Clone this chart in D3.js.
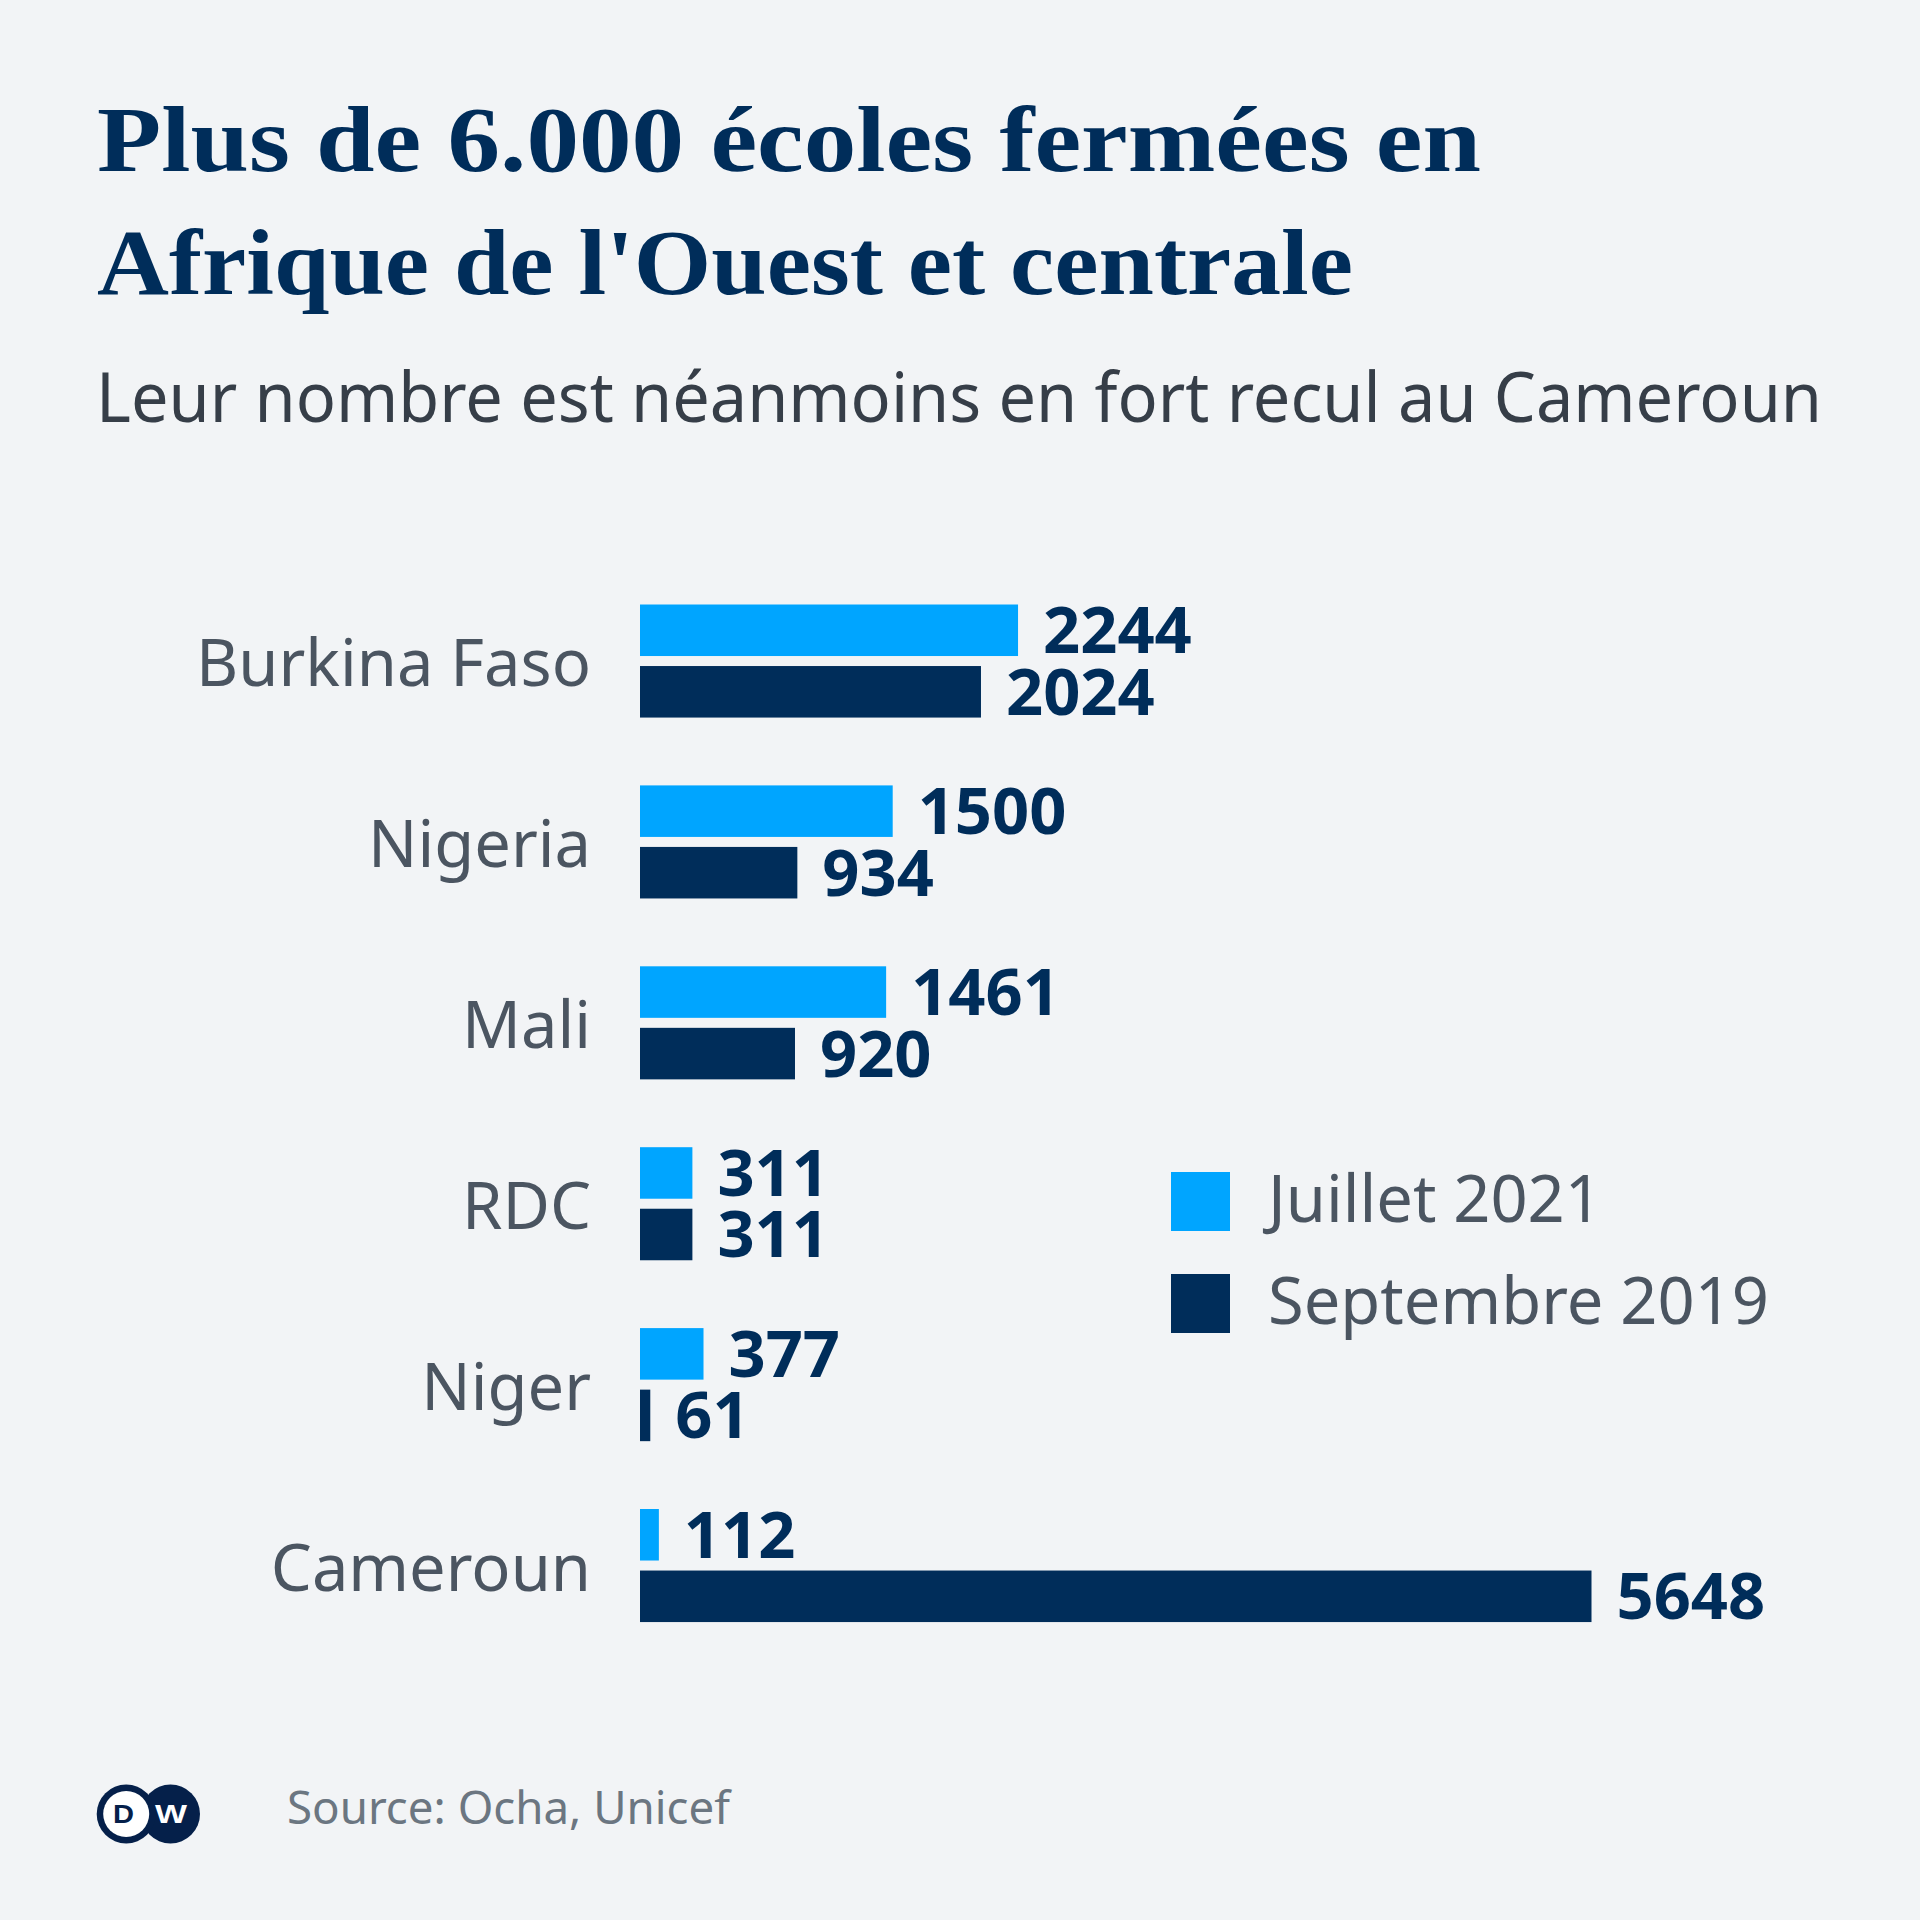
<!DOCTYPE html>
<html>
<head>
<meta charset="utf-8">
<script src="https://cdn.jsdelivr.net/npm/d3@7"></script>
<style>
  html, body { margin: 0; padding: 0; background: #f2f4f6; }
  svg { display: block; }
</style>
</head>
<body>
<svg id="chart" width="1920" height="1920"></svg>
<script>
// ---- Data ----
const titleLines = ["Plus de 6.000 écoles fermées en", "Afrique de l'Ouest et centrale"];
const subtitle = "Leur nombre est néanmoins en fort recul au Cameroun";
const source = "Source: Ocha, Unicef";
const categories = ["Burkina Faso", "Nigeria", "Mali", "RDC", "Niger", "Cameroun"];
const seriesNames = ["Juillet 2021", "Septembre 2019"];
const july2021 = [2244, 1500, 1461, 311, 377, 112];
const sept2019 = [2024, 934, 920, 311, 61, 5648];
const seriesColors = ["#00a5ff", "#002d5a"];

// ---- Layout ----
const W = 1920, H = 1920;
const bg = "#f2f4f6";
const navy = "#002d5a";
const svg = d3.select("#chart");
svg.append("rect").attr("width", W).attr("height", H).attr("fill", bg);

function fitWidth(sel, target) {
  const w = sel.node().getComputedTextLength();
  if (Math.abs(w - target) > 1) {
    sel.attr("textLength", target).attr("lengthAdjust", "spacingAndGlyphs");
  }
}

// Title
const titleBase = [171, 294];
const titleWidths = [1384, 1256];
titleLines.forEach((t, i) => {
  const tx = svg.append("text")
    .attr("x", 97).attr("y", titleBase[i])
    .attr("font-family", "'Liberation Serif', serif")
    .attr("font-weight", 700)
    .attr("font-size", 94)
    .attr("fill", navy)
    .text(t);
  fitWidth(tx, titleWidths[i]);
});

// Subtitle
const sub = svg.append("text")
  .attr("x", 96).attr("y", 422)
  .attr("font-family", "'Noto Sans', sans-serif")
  .attr("font-size", 68.5)
  .attr("fill", "#363e48")
  .text(subtitle);
fitWidth(sub, 1726);

// Scales
const step = 180.9;
const firstTop = 604.5;
const y0 = firstTop - 0.1875 * step;
const y = d3.scaleBand()
  .domain(categories)
  .range([y0, y0 + categories.length * step])
  .paddingInner(0.375)
  .paddingOuter(0.1875)
  .align(0.5);

const ySub = d3.scaleBand()
  .domain(seriesNames)
  .range([0, y.bandwidth()])
  .paddingInner(0.1626)
  .paddingOuter(0);

const xLeft = 640;
const x = d3.scaleLinear()
  .domain([0, d3.max(sept2019.concat(july2021))])
  .range([xLeft, xLeft + 951.5]);

const color = d3.scaleOrdinal().domain(seriesNames).range(seriesColors);

const rows = categories.map((c, i) => ({
  cat: c,
  values: [
    { s: seriesNames[0], v: july2021[i] },
    { s: seriesNames[1], v: sept2019[i] }
  ]
}));

const groups = svg.append("g").selectAll("g")
  .data(rows).join("g")
  .attr("transform", d => `translate(0,${y(d.cat)})`);

groups.selectAll("rect")
  .data(d => d.values).join("rect")
  .attr("x", x(0))
  .attr("y", d => ySub(d.s))
  .attr("width", d => x(d.v) - x(0))
  .attr("height", ySub.bandwidth())
  .attr("fill", d => color(d.s));

groups.selectAll("text.val")
  .data(d => d.values).join("text")
  .attr("class", "val")
  .attr("x", d => x(d.v) + 25)
  .attr("y", d => ySub(d.s) + ySub.bandwidth() / 2 + 23)
  .attr("font-family", "'Noto Sans', sans-serif")
  .attr("font-weight", 700)
  .attr("font-size", 65)
  .attr("fill", navy)
  .text(d => d.v);

// Category labels
svg.append("g").selectAll("text")
  .data(categories).join("text")
  .attr("x", 591)
  .attr("y", d => y(d) + y.bandwidth() / 2 + 25)
  .attr("text-anchor", "end")
  .attr("font-family", "'Noto Sans', sans-serif")
  .attr("font-size", 65)
  .attr("fill", "#4b5561")
  .text(d => d);

// Legend
const legend = svg.append("g").attr("transform", "translate(1171,1172)");
const li = legend.selectAll("g").data(seriesNames).join("g")
  .attr("transform", (d, i) => `translate(0,${i * 102})`);
li.append("rect").attr("width", 59).attr("height", 59).attr("fill", d => color(d));
li.append("text")
  .attr("x", 97).attr("y", 50)
  .attr("font-family", "'Noto Sans', sans-serif")
  .attr("font-size", 65)
  .attr("fill", "#4b5561")
  .text(d => d);

// Source
const src = svg.append("text")
  .attr("x", 287).attr("y", 1823.5)
  .attr("font-family", "'Noto Sans', sans-serif")
  .attr("font-size", 45)
  .attr("fill", "#6b7681")
  .text(source);
fitWidth(src, 443);

// DW logo
const logo = svg.append("g");
const cy = 1814, r = 29.5;
logo.append("circle").attr("cx", 170.5).attr("cy", cy).attr("r", r).attr("fill", "#05204a");
logo.append("circle").attr("cx", 126.2).attr("cy", cy).attr("r", r).attr("fill", "#05204a");
logo.append("circle").attr("cx", 126.2).attr("cy", cy).attr("r", 23).attr("fill", "#ffffff");
logo.append("text").attr("x", 113).attr("y", cy + 8.5)
  .attr("font-family", "'Liberation Sans', sans-serif").attr("font-weight", 700)
  .attr("font-size", 26).attr("fill", "#05204a")
  .attr("textLength", 21).attr("lengthAdjust", "spacingAndGlyphs").text("D");
logo.append("text").attr("x", 155).attr("y", cy + 8.5)
  .attr("font-family", "'Liberation Sans', sans-serif").attr("font-weight", 700)
  .attr("font-size", 26).attr("fill", "#ffffff")
  .attr("textLength", 32).attr("lengthAdjust", "spacingAndGlyphs").text("W");
</script>
</body>
</html>
